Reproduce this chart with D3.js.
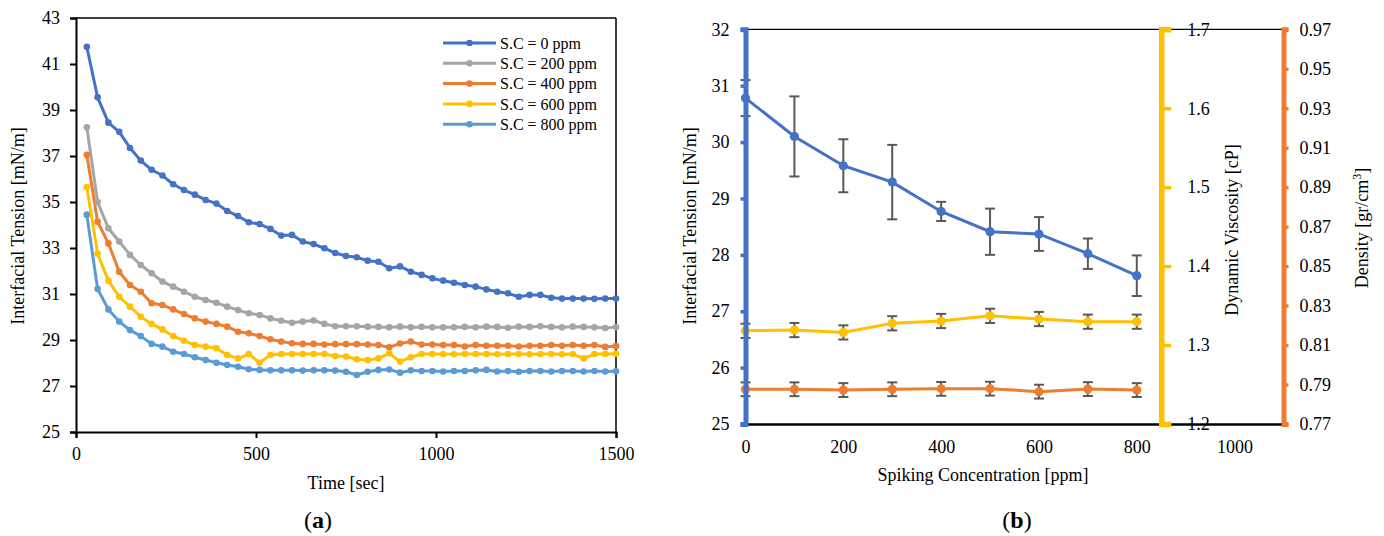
<!DOCTYPE html>
<html><head><meta charset="utf-8">
<script src="https://cdn.jsdelivr.net/npm/d3@7"></script>
<style>
body{margin:0;background:#fff;}
text{font-family:"Liberation Serif","Times New Roman",serif;fill:#000;}
</style></head>
<body>
<svg id="c" width="1384" height="536"></svg>
<script>
// ---------- Data: panel (a) ----------
const time = [30,60,90,120,150,180,210,240,270,300,330,360,390,420,450,480,510,540,570,600,
  630,660,690,720,750,780,810,840,870,900,930,960,990,1020,1050,1080,1110,1140,1170,1200,
  1230,1260,1290,1320,1350,1380,1410,1440,1470,1500];
const sc0 = [41.75,39.55,38.45,38.05,37.35,36.8,36.4,36.15,35.77,35.52,35.32,35.09,34.93,34.61,34.39,34.12,34.04,33.83,33.54,33.57,
  33.28,33.17,32.99,32.78,32.65,32.6,32.45,32.4,32.12,32.2,31.97,31.83,31.68,31.58,31.49,31.39,31.32,31.2,31.1,31.03,
  30.88,30.96,30.96,30.84,30.8,30.8,30.8,30.79,30.8,30.8];
const sc200 = [38.25,35.0,33.86,33.28,32.7,32.26,31.9,31.54,31.32,31.1,30.88,30.74,30.62,30.45,30.3,30.16,30.09,29.94,29.84,29.75,
  29.8,29.85,29.7,29.6,29.6,29.6,29.58,29.57,29.55,29.58,29.55,29.57,29.55,29.55,29.55,29.57,29.55,29.58,29.57,29.53,
  29.58,29.57,29.6,29.57,29.55,29.58,29.57,29.55,29.52,29.56];
const sc400 = [37.05,34.14,33.2,31.97,31.39,31.1,30.6,30.52,30.33,30.13,29.94,29.8,29.7,29.58,29.36,29.29,29.17,29.03,28.93,28.86,
  28.83,28.83,28.8,28.82,28.82,28.82,28.8,28.78,28.68,28.85,28.93,28.8,28.8,28.78,28.78,28.72,28.78,28.75,28.75,28.75,
  28.72,28.75,28.75,28.78,28.75,28.78,28.75,28.78,28.7,28.74];
const sc600 = [35.65,32.75,31.58,30.88,30.45,30.01,29.7,29.46,29.17,28.97,28.78,28.71,28.64,28.35,28.2,28.39,28.01,28.35,28.39,28.39,
  28.39,28.39,28.39,28.3,28.28,28.16,28.13,28.2,28.42,28.06,28.25,28.39,28.39,28.39,28.38,28.39,28.39,28.39,28.38,28.39,
  28.39,28.38,28.39,28.39,28.38,28.39,28.2,28.39,28.39,28.4];
const sc800 = [34.45,31.22,30.33,29.8,29.43,29.17,28.83,28.71,28.49,28.39,28.25,28.13,28.01,27.91,27.84,27.73,27.7,27.68,27.68,27.68,
  27.67,27.68,27.68,27.67,27.62,27.48,27.62,27.7,27.72,27.58,27.68,27.65,27.65,27.63,27.65,27.65,27.68,27.7,27.63,27.65,
  27.62,27.65,27.65,27.63,27.65,27.65,27.63,27.65,27.63,27.64];
const seriesNames = ["S.C = 0 ppm","S.C = 200 ppm","S.C = 400 ppm","S.C = 600 ppm","S.C = 800 ppm"];
const seriesColors = ["#4472C4","#A5A5A5","#ED7D31","#FFC000","#5B9BD5"];
const xTicksA = [0,500,1000,1500];
const yTicksA = [25,27,29,31,33,35,37,39,41,43];

// ---------- Data: panel (b) ----------
const conc = [0,100,200,300,400,500,600,700,800];
const ift = [30.78,30.1,29.58,29.29,28.77,28.41,28.37,28.02,27.63];
const iftErr = [0.32,0.71,0.47,0.66,0.17,0.41,0.3,0.27,0.36];
const visc = [1.318,1.319,1.316,1.3276,1.3305,1.337,1.333,1.3296,1.3296];
const viscErr = [0.009,0.009,0.009,0.009,0.009,0.009,0.009,0.009,0.009];
const dens = [0.7876,0.7876,0.7872,0.7876,0.7878,0.7879,0.7864,0.7877,0.7872];
const densErr = [0.0035,0.0035,0.0035,0.0035,0.0035,0.0035,0.0035,0.0035,0.0035];
const xTicksB = [0,200,400,600,800,1000];
const yTicksIFT = [25,26,27,28,29,30,31,32];
const yTicksVisc = [1.2,1.3,1.4,1.5,1.6,1.7];
const yTicksDens = [0.77,0.79,0.81,0.83,0.85,0.87,0.89,0.91,0.93,0.95,0.97];

const TICK_FS = "18px", TITLE_FS = "18px", LEG_FS = "16px", PANEL_FS = "24px";
const svg = d3.select("#c");

// ================= Panel (a) =================
const xA = d3.scaleLinear([0,1500],[76,616]);
const yA = d3.scaleLinear([25,43],[432,18]);
const gA = svg.append("g");

gA.append("line").attr("x1",76).attr("x2",616).attr("y1",18).attr("y2",18).attr("stroke","#000").attr("stroke-width",1.5);
gA.append("line").attr("x1",616).attr("x2",616).attr("y1",18).attr("y2",432).attr("stroke","#000").attr("stroke-width",1.5);

const axAx = gA.append("g").attr("transform","translate(0,432)")
  .call(d3.axisBottom(xA).tickValues(xTicksA).tickFormat(d3.format("d")).tickSizeOuter(0).tickSize(6).tickPadding(9));
const axAy = gA.append("g").attr("transform","translate(76,0)")
  .call(d3.axisLeft(yA).tickValues(yTicksA).tickFormat(d3.format("d")).tickSizeOuter(0).tickSize(6).tickPadding(10));
[axAx,axAy].forEach(a=>{
  a.attr("font-family",null);
  a.select(".domain").attr("stroke","#000").attr("stroke-width",2);
  a.selectAll(".tick line").attr("stroke","#000").attr("stroke-width",2);
  a.selectAll(".tick text").style("font-size",TICK_FS).attr("fill","#000");
});

const allA = [sc0,sc200,sc400,sc600,sc800];
const lineA = d3.line().x((d,i)=>xA(time[i])).y(d=>yA(d));
allA.forEach((s,k)=>{
  gA.append("path").datum(s).attr("d",lineA).attr("fill","none")
    .attr("stroke",seriesColors[k]).attr("stroke-width",3).attr("stroke-linejoin","round");
});
allA.forEach((s,k)=>{
  gA.append("g").selectAll("circle").data(s).join("circle")
    .attr("cx",(d,i)=>xA(time[i])).attr("cy",d=>yA(d)).attr("r",3.3).attr("fill",seriesColors[k]);
});

const leg = gA.append("g");
seriesNames.forEach((n,k)=>{
  const y = 43 + k*20.3;
  leg.append("line").attr("x1",443).attr("x2",496).attr("y1",y).attr("y2",y).attr("stroke",seriesColors[k]).attr("stroke-width",3);
  leg.append("circle").attr("cx",469.5).attr("cy",y).attr("r",3.3).attr("fill",seriesColors[k]);
  leg.append("text").attr("x",500).attr("y",y).attr("dy","0.35em").style("font-size",LEG_FS).text(n);
});

gA.append("text").attr("transform","translate(24,226) rotate(-90)").attr("text-anchor","middle")
  .style("font-size",TITLE_FS).text("Interfacial Tension [mN/m]");
gA.append("text").attr("x",346).attr("y",489).attr("text-anchor","middle").style("font-size",TITLE_FS).text("Time [sec]");
gA.append("text").attr("x",318).attr("y",528).attr("text-anchor","middle").style("font-size",PANEL_FS)
  .html('(<tspan font-weight="bold">a</tspan>)');

// ================= Panel (b) =================
const xB = d3.scaleLinear([0,1100],[745.5,1283.5]);
const yI = d3.scaleLinear([25,32],[424,29.3]);
const yV = d3.scaleLinear([1.2,1.7],[424,29.3]);
const yD = d3.scaleLinear([0.77,0.97],[424,29.3]);
const gB = svg.append("g");

gB.append("line").attr("x1",745.5).attr("x2",1283.5).attr("y1",29.3).attr("y2",29.3).attr("stroke","#000").attr("stroke-width",1.3);

const axBx = gB.append("g").attr("transform","translate(0,424)")
  .call(d3.axisBottom(xB).tickValues(xTicksB).tickFormat(d3.format("d")).tickSizeOuter(0).tickSize(0).tickPadding(16));
axBx.attr("font-family",null);
axBx.select(".domain").attr("stroke","#000").attr("stroke-width",2.5);
axBx.selectAll(".tick text").style("font-size",TICK_FS).attr("fill","#000");

function styleAxis(a,color,w){
  a.attr("font-family",null);
  a.select(".domain").attr("stroke",color).attr("stroke-width",w);
  a.selectAll(".tick line").attr("stroke",color).attr("stroke-width",3.5);
  a.selectAll(".tick text").style("font-size",TICK_FS).attr("fill","#000");
}

const axV = gB.append("g").attr("transform",`translate(${xB(850)},0)`)
  .call(d3.axisRight(yV).tickValues(yTicksVisc).tickFormat(d3.format(".1f")).tickSizeOuter(0).tickSize(10).tickPadding(16));
styleAxis(axV,"#FFC000",5.5);
const axD = gB.append("g").attr("transform",`translate(${xB(1100)},0)`)
  .call(d3.axisRight(yD).tickValues(yTicksDens).tickFormat(d3.format(".2f")).tickSizeOuter(0).tickSize(5).tickPadding(11));
styleAxis(axD,"#ED7D31",5);

function drawSeries(vals,errs,y,color){
  const g = gB.append("g");
  g.append("path").datum(vals).attr("d",d3.line().x((d,i)=>xB(conc[i])).y(d=>y(d)))
    .attr("fill","none").attr("stroke",color).attr("stroke-width",3);
  const eb = g.append("g").attr("stroke","#595959").attr("stroke-width",2);
  vals.forEach((v,i)=>{
    const x = xB(conc[i]), y1 = y(v+errs[i]), y2 = y(v-errs[i]);
    eb.append("line").attr("x1",x).attr("x2",x).attr("y1",y1).attr("y2",y2);
    eb.append("line").attr("x1",x-5).attr("x2",x+5).attr("y1",y1).attr("y2",y1);
    eb.append("line").attr("x1",x-5).attr("x2",x+5).attr("y1",y2).attr("y2",y2);
  });
  g.append("g").selectAll("circle").data(vals).join("circle")
    .attr("cx",(d,i)=>xB(conc[i])).attr("cy",d=>y(d)).attr("r",4.6).attr("fill",color);
}
drawSeries(dens,densErr,yD,"#ED7D31");
drawSeries(visc,viscErr,yV,"#FFC000");
drawSeries(ift,iftErr,yI,"#4472C4");

const axI = gB.append("g").attr("transform","translate(745.5,0)")
  .call(d3.axisLeft(yI).tickValues(yTicksIFT).tickFormat(d3.format("d")).tickSizeOuter(0).tickSize(5).tickPadding(11));
styleAxis(axI,"#4472C4",5);

gB.append("text").attr("transform","translate(696,226) rotate(-90)").attr("text-anchor","middle")
  .style("font-size",TITLE_FS).text("Interfacial Tension [mN/m]");
gB.append("text").attr("x",983).attr("y",481).attr("text-anchor","middle").style("font-size",TITLE_FS).text("Spiking Concentration [ppm]");
gB.append("text").attr("transform","translate(1238,230) rotate(-90)").attr("text-anchor","middle")
  .style("font-size",TITLE_FS).text("Dynamic Viscosity [cP]");
gB.append("text").attr("transform","translate(1368,228) rotate(-90)").attr("text-anchor","middle")
  .style("font-size",TITLE_FS).html('Density [gr/cm<tspan baseline-shift="super" font-size="12px">3</tspan>]');
gB.append("text").attr("x",1017).attr("y",528).attr("text-anchor","middle").style("font-size",PANEL_FS)
  .html('(<tspan font-weight="bold">b</tspan>)');
</script>
</body></html>
